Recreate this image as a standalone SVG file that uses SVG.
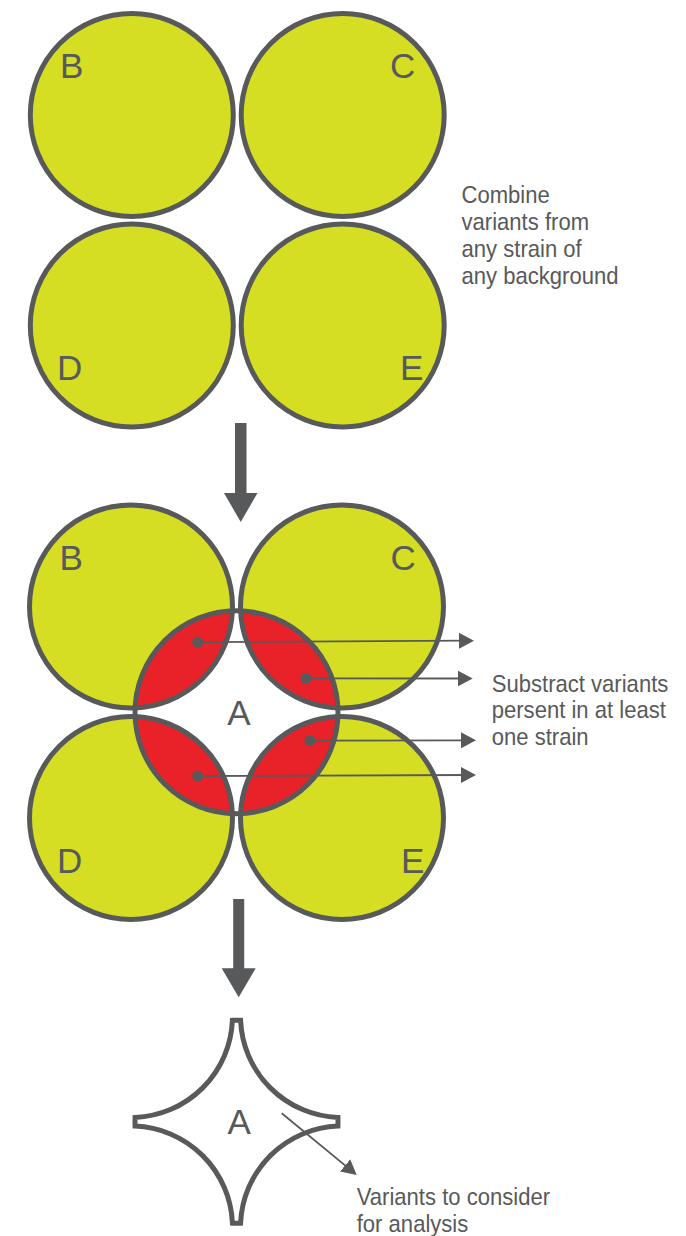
<svg xmlns="http://www.w3.org/2000/svg" width="686" height="1236" viewBox="0 0 686 1236">
<style>
.strain{fill:#D5DE23;stroke:#58595B;stroke-width:5}
.lbl{font-family:"Liberation Sans",Arial,sans-serif;font-size:35px;fill:#58595B}
.note{font-family:"Liberation Sans",Arial,sans-serif;font-size:24px;fill:#58595B}
.conn{stroke:#58595B;stroke-width:1.8;fill:none}
.dot{fill:#58595B}
.big{fill:#58595B}
</style>
<defs>
<marker id="ah" viewBox="0 0 15 16" refX="5" refY="8" markerWidth="15" markerHeight="16" markerUnits="userSpaceOnUse" orient="auto">
<path d="M0,0 L15,8 L0,16 Z" fill="#58595B"/>
</marker>
<clipPath id="clipA"><circle cx="236.5" cy="712.25" r="101.5"/></clipPath>
</defs>

<!-- Top panel -->
<g id="top-B"><circle class="strain" cx="131.8" cy="115" r="101.5"/><text class="lbl" x="60" y="78">B</text></g>
<g id="top-C"><circle class="strain" cx="342.7" cy="115" r="101.5"/><text class="lbl" x="390" y="78">C</text></g>
<g id="top-D"><circle class="strain" cx="131.8" cy="325.5" r="101.5"/><text class="lbl" x="57" y="380">D</text></g>
<g id="top-E"><circle class="strain" cx="342.7" cy="325.5" r="101.5"/><text class="lbl" x="400" y="380">E</text></g>
<g id="note-combine" transform="translate(461.5,0) scale(0.92,1)">
<text class="note"><tspan x="0" y="203.3">Combine</tspan><tspan x="0" y="230.1">variants from</tspan><tspan x="0" y="256.9">any strain of</tspan><tspan x="0" y="283.7">any background</tspan></text>
</g>

<!-- Middle panel -->
<g id="mid-B"><circle class="strain" cx="131" cy="606.5" r="101.5"/><text class="lbl" x="59.5" y="570">B</text></g>
<g id="mid-C"><circle class="strain" cx="342" cy="606.5" r="101.5"/><text class="lbl" x="390.5" y="570">C</text></g>
<g id="mid-D"><circle class="strain" cx="131" cy="818" r="101.5"/><text class="lbl" x="57" y="873">D</text></g>
<g id="mid-E"><circle class="strain" cx="342" cy="818" r="101.5"/><text class="lbl" x="401" y="873">E</text></g>
<g id="mid-A">
<g clip-path="url(#clipA)">
<rect x="130" y="605" width="215" height="215" fill="#FFFFFF"/>
<circle cx="131" cy="606.5" r="101.5" fill="#E92129" stroke="#58595B" stroke-width="5"/>
<circle cx="342" cy="606.5" r="101.5" fill="#E92129" stroke="#58595B" stroke-width="5"/>
<circle cx="131" cy="818" r="101.5" fill="#E92129" stroke="#58595B" stroke-width="5"/>
<circle cx="342" cy="818" r="101.5" fill="#E92129" stroke="#58595B" stroke-width="5"/>
</g>
<circle cx="236.5" cy="712.25" r="101.5" fill="none" stroke="#58595B" stroke-width="5"/>
<text class="lbl" x="239" y="724.5" text-anchor="middle">A</text>
</g>
<g id="note-substract" transform="translate(491.7,0) scale(0.92,1)">
<text class="note"><tspan x="0" y="691.7">Substract variants</tspan><tspan x="0" y="718.5">persent in at least</tspan><tspan x="0" y="745.2">one strain</tspan></text>
</g>

<!-- Bottom panel -->
<g id="result-A">
<path transform="translate(0,409.5)" d="M232.41,610.83 A101.5,101.5 0 0 1 135.09,707.92 A101.5,101.5 0 0 0 135.09,716.58 A101.5,101.5 0 0 1 232.41,813.67 A101.5,101.5 0 0 0 240.59,813.67 A101.5,101.5 0 0 1 337.91,716.58 A101.5,101.5 0 0 0 337.91,707.92 A101.5,101.5 0 0 1 240.59,610.83 A101.5,101.5 0 0 0 232.41,610.83 Z" fill="#FFFFFF" stroke="#58595B" stroke-width="5"/>
<text class="lbl" x="239.2" y="1134.3" text-anchor="middle">A</text>
</g>
<g id="note-variants" transform="translate(356.7,0) scale(0.92,1)">
<text class="note"><tspan x="0" y="1205">Variants to consider</tspan><tspan x="0" y="1231.7">for analysis</tspan></text>
</g>

<!-- Connectors -->
<g id="connectors">
<polygon class="big" points="235,423 246.5,423 246.5,493 257.5,493 240.75,522 224,493 235,493"/>
<polygon class="big" points="233.2,899 244.2,899 244.2,968.3 255.7,968.3 238.7,997.3 221.7,968.3 233.2,968.3"/>
<circle class="dot" cx="197.7" cy="642.2" r="5.5"/>
<circle class="dot" cx="306" cy="678.3" r="5.5"/>
<circle class="dot" cx="310" cy="740.7" r="5.5"/>
<circle class="dot" cx="197.7" cy="776" r="5.5"/>
<line class="conn" x1="197.7" y1="642.2" x2="464" y2="640.7" marker-end="url(#ah)"/>
<line class="conn" x1="306" y1="678.3" x2="462.7" y2="678.5" marker-end="url(#ah)"/>
<line class="conn" x1="310" y1="740.7" x2="466" y2="740.3" marker-end="url(#ah)"/>
<line class="conn" x1="197.7" y1="776" x2="466" y2="775" marker-end="url(#ah)"/>
<line class="conn" x1="281.7" y1="1113.3" x2="349" y2="1168.6" marker-end="url(#ah)"/>
</g>
</svg>
